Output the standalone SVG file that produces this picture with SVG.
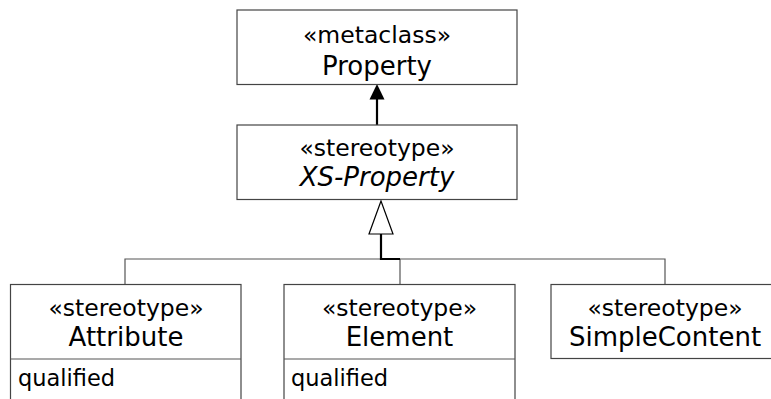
<svg xmlns="http://www.w3.org/2000/svg" width="771" height="399" viewBox="0 0 771 399">
<style>
.box{fill:#fff;stroke:#444;stroke-width:1.2}
.st{font-family:"DejaVu Sans",Verdana,sans-serif;font-size:23.5px;text-anchor:middle;fill:#000}
.nm{font-family:"DejaVu Sans",Verdana,sans-serif;font-size:26px;text-anchor:middle;fill:#000}
.at{font-family:"DejaVu Sans",Verdana,sans-serif;font-size:22.5px;fill:#000}
.thin{fill:none;stroke:#555;stroke-width:1.2}
.thick{fill:none;stroke:#000;stroke-width:2.2}
</style>
<rect width="771" height="399" fill="#fff"/>
<g id="connectors">
<path class="thick" d="M377,125 V98"/>
<polygon points="377,84 369.5,99.5 384.5,99.5" fill="#000"/>
<path class="thin" d="M125,284 V259 H665 V284 M400,259 V284"/>
<path class="thick" d="M381,234 V259 H400"/>
<polygon points="381,201 369,234 393,234" fill="#fff" stroke="#000" stroke-width="1.2"/>
</g>
<g id="Property">
<rect class="box" x="237" y="10" width="280" height="74.5"/>
<text class="st" x="377" y="43">«metaclass»</text>
<text class="nm" x="377" y="75">Property</text>
</g>
<g id="XS-Property">
<rect class="box" x="237" y="125" width="280" height="74.5"/>
<text class="st" x="377" y="156">«stereotype»</text>
<text class="nm" x="377" y="186" font-style="italic">XS-Property</text>
</g>
<g id="Attribute">
<rect class="box" x="10.5" y="284.5" width="230.5" height="120"/>
<path class="thin" d="M10.5,359 H241"/>
<text class="st" x="126" y="316">«stereotype»</text>
<text class="nm" x="126" y="346">Attribute</text>
<text class="at" x="18" y="386">qualified</text>
</g>
<g id="Element">
<rect class="box" x="284" y="284.5" width="231" height="120"/>
<path class="thin" d="M284,359 H515"/>
<text class="st" x="399.5" y="316">«stereotype»</text>
<text class="nm" x="399.5" y="346">Element</text>
<text class="at" x="291" y="386">qualified</text>
</g>
<g id="SimpleContent">
<rect class="box" x="551" y="284.5" width="228" height="74"/>
<text class="st" x="665" y="316">«stereotype»</text>
<text class="nm" x="665" y="346">SimpleContent</text>
</g>
</svg>
